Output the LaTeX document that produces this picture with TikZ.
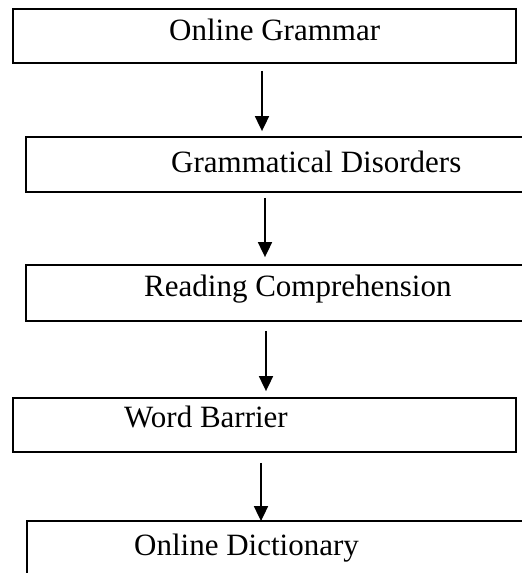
\documentclass[tikz,border=0pt]{standalone}
\usepackage{fontspec}
\setmainfont{Liberation Serif}
\usetikzlibrary{arrows.meta}

\begin{document}
\begin{tikzpicture}[x=1pt,y=-1pt,
    box/.style={draw,line width=1.8pt,rectangle,inner sep=0pt},
    txt/.style={anchor=base west,inner sep=0pt,font=\fontsize{31}{36}\selectfont},
    arr/.style={line width=1.8pt,-{Triangle[length=15pt,width=14pt]}}]
  \clip (0,0) rectangle (522,573);
  \node (b1) at (264.5,36) [box,minimum width=503pt,minimum height=54pt] {};
  \node (b2) at (283,164.5) [box,minimum width=514pt,minimum height=55pt] {};
  \node (b3) at (283,293) [box,minimum width=514pt,minimum height=56pt] {};
  \node (b4) at (264.5,425) [box,minimum width=503pt,minimum height=54pt] {};
  \node (b5) at (283.5,560.5) [box,minimum width=513pt,minimum height=79pt] {};
  \node (t1) at (169,40) [txt] {Online Grammar};
  \node (t2) at (171,172) [txt] {Grammatical Disorders};
  \node (t3) at (144,296) [txt] {Reading Comprehension};
  \node (t4) at (124,427) [txt] {Word Barrier};
  \node (t5) at (134,555) [txt] {Online Dictionary};
  \coordinate (x1) at (262,0);
  \coordinate (x2) at (265,0);
  \coordinate (x3) at (266,0);
  \coordinate (x4) at (261,0);
  \draw[arr,shorten <=7pt,shorten >=5pt] (b1.south -| x1) -- (b2.north -| x1);
  \draw[arr,shorten <=5pt,shorten >=7pt] (b2.south -| x2) -- (b3.north -| x2);
  \draw[arr,shorten <=9pt,shorten >=6pt] (b3.south -| x3) -- (b4.north -| x3);
  \draw[arr,shorten <=10pt,shorten >=-1pt] (b4.south -| x4) -- (b5.north -| x4);
\end{tikzpicture}
\end{document}
